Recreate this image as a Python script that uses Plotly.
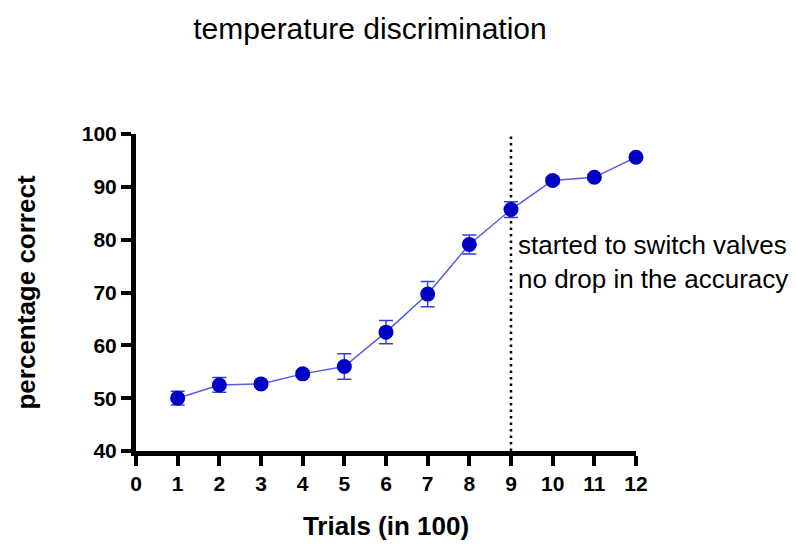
import plotly.graph_objects as go

trials = [1, 2, 3, 4, 5, 6, 7, 8, 9, 10, 11, 12]
pct_correct = [50.0, 52.5, 52.7, 54.6, 56.0, 62.5, 69.7, 79.1, 85.7, 91.2, 91.8, 95.6]
err = [1.3, 1.4, 0.5, 0.6, 2.4, 2.2, 2.4, 1.8, 1.5, 0.6, 0.5, 0.5]
x_ticks = list(range(0, 13))
y_ticks = [40, 50, 60, 70, 80, 90, 100]
switch_trial = 9
note_text = "started to switch valves<br>no drop in the accuracy"

FONT = "Liberation Sans, Arial"

fig = go.Figure()
fig.add_trace(go.Scatter(
    x=trials, y=pct_correct, mode="lines+markers",
    line=dict(color="rgb(90,90,235)", width=1.5),
    marker=dict(color="rgb(0,0,195)", size=15),
    error_y=dict(type="data", array=err, visible=True, color="rgb(60,60,220)", thickness=1.5, width=7),
    showlegend=False, cliponaxis=False,
))

fig.add_shape(type="line", xref="x", yref="y", x0=switch_trial, x1=switch_trial, y0=40, y1=100,
              line=dict(color="black", width=2.5, dash="2.5px,4px"), layer="below")

fig.add_annotation(x=switch_trial, y=75.8, xref="x", yref="y", text=note_text,
                   showarrow=False, xanchor="left", yanchor="middle", align="left", xshift=5,
                   font=dict(family=FONT, size=26, color="black"))

tick_font = dict(family=FONT, size=21, color="black", weight="bold")
title_font = dict(family=FONT, size=26, color="black", weight="bold")
fig.update_layout(
    width=796, height=549,
    margin=dict(l=136, r=160, t=134, b=94),
    plot_bgcolor="white", paper_bgcolor="white",
    title=dict(text="temperature discrimination", x=370 / 796, xref="container", xanchor="center",
               y=1 - 28 / 549, yref="container", yanchor="middle",
               font=dict(family=FONT, size=30, color="black")),
    xaxis=dict(range=[0, 12], tickvals=x_ticks, ticktext=[str(t) for t in x_ticks],
               showline=True, linecolor="black", linewidth=5, ticks="outside", ticklen=10,
               tickwidth=4, tickcolor="black", showgrid=False, zeroline=False,
               tickfont=tick_font,
               title=dict(text="Trials (in 100)", font=title_font, standoff=24)),
    yaxis=dict(range=[40, 100], tickvals=y_ticks, showline=True, linecolor="black", linewidth=5,
               ticks="outside", ticklen=10, tickwidth=4, tickcolor="black", showgrid=False,
               zeroline=False, tickfont=tick_font,
               title=dict(text="percentage correct", font=title_font, standoff=40)),
)

fig.write_html("out.html")
